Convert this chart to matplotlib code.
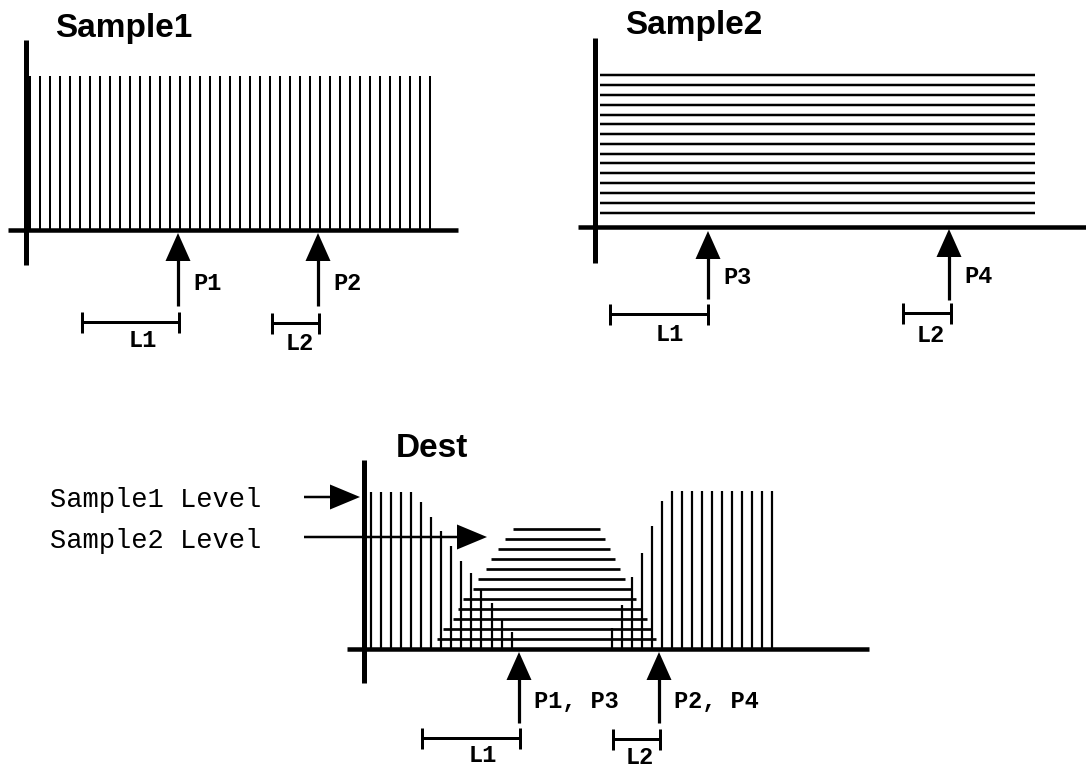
import matplotlib
matplotlib.use("Agg")
import matplotlib.pyplot as plt

# everything below is in picture units: 0..1086 across, 0..767 down

# Sample1: comb of vertical samples
s1_x = [30, 40, 50, 60, 70, 80, 90, 100, 110, 120, 130, 140, 150, 160, 170, 180,
        190, 200, 210, 220, 230, 240, 250, 260, 270, 280, 290, 300, 310, 320, 330,
        340, 350, 360, 370, 380, 390, 400, 410, 420, 430]
s1_top = 76
s1_base = 230

# Sample2: horizontal levels
s2_y = [75, 85, 95, 105, 114.5, 124, 134, 143.5, 153.5, 163, 172.5, 182.5, 192.5, 202.5, 212.5]
s2_left, s2_right = 600, 1035

# Dest: mix of both
dest_left_x = [371, 381, 391, 401, 411, 421, 431, 441, 451, 461, 471, 481, 491.5, 501.5, 511.5]
dest_left_top = [492, 492, 492, 492, 492, 502, 517, 531, 546, 561, 573, 589, 603, 619, 632]
dest_right_x = [612, 622, 632, 642, 652, 662, 672, 682, 692, 702, 712, 722, 732, 742, 752, 762, 772]
dest_right_top = [628, 605, 577, 553, 526, 501, 491, 491, 491, 491, 491, 491, 491, 491, 491, 491, 491]
dest_h_y = [529, 539, 549, 559, 569, 579, 589, 599, 609, 619, 629, 638.5]
dest_h_left = [513, 505, 498, 491, 486, 478, 473, 463, 458, 453, 443, 437]
dest_h_right = [600, 605, 610, 615, 620, 625, 631, 636, 641, 647, 652, 656]
dest_base = 649

# frames (y axis + x axis of each panel)
titles = ["Sample1", "Sample2", "Dest"]
title_x = [55, 625, 396]
title_y = [37, 34, 457]
vax_x = [26, 595, 364]
vax_top = [40, 38, 460]
vax_bot = [265, 263, 683]
hax_y = [230, 227, dest_base]
hax_x0 = [8, 578, 347]
hax_x1 = [458, 1086, 869]

# pointers
ptr_labels = ["P1", "P2", "P3", "P4", "P1, P3", "P2, P4"]
ptr_x = [178, 318, 708, 949, 519, 659]
ptr_tip = [233, 233, 231, 229, 652, 652]
ptr_end = [306, 306, 299, 300, 723, 723]
ptr_text_y = [289.5, 289.5, 284, 283, 708, 708]

# length brackets
len_labels = ["L1", "L2", "L1", "L2", "L1", "L2"]
len_x0 = [82, 272, 610, 903, 422, 613]
len_x1 = [179, 319, 708, 951, 520, 660]
len_y = [322, 323, 314, 313, 738, 739]
len_text_x = [143, 300, 670, 931, 483, 640]
len_text_y = [347, 350, 341, 342, 762, 764]

# level arrows in Dest
level_labels = ["Sample1 Level", "Sample2 Level"]
level_y = [497, 537]
level_start = [304, 304]
level_tip = [360, 487]
level_text_x = [50, 50]
level_text_y = [507, 548]

head_len = 28
head_hw = 12.5
px = 0.72  # pixel -> points at 100 dpi

fig = plt.figure(figsize=(10.86, 7.67), dpi=100)
ax = fig.add_axes([0, 0, 1, 1])
ax.set_xlim(0, 1086)
ax.set_ylim(767, 0)
ax.axis("off")

# sample lines
ax.vlines(s1_x, s1_top, s1_base, color="black", lw=2 * px)
ax.hlines(s2_y, s2_left, s2_right, color="black", lw=2.5 * px)
ax.vlines(dest_left_x, dest_left_top, dest_base, color="black", lw=2.2 * px)
ax.vlines(dest_right_x, dest_right_top, dest_base, color="black", lw=2.2 * px)
ax.hlines(dest_h_y, dest_h_left, dest_h_right, color="black", lw=2.7 * px)

# axes of each panel
ax.vlines(vax_x, vax_top, vax_bot, color="black", lw=5 * px)
ax.hlines(hax_y, hax_x0, hax_x1, color="black", lw=4.5 * px)

for i in range(len(titles)):
    ax.text(title_x[i], title_y[i], titles[i], family="Liberation Sans",
            weight="bold", fontsize=24, ha="left", va="baseline")

# upward pointers
for i in range(len(ptr_labels)):
    x = ptr_x[i]
    t = ptr_tip[i]
    ax.fill([x, x - head_hw, x + head_hw], [t, t + head_len, t + head_len],
            color="black", lw=0)
    ax.vlines(x, t + head_len - 1, ptr_end[i], color="black", lw=3.2 * px)
    ax.text(x + 15, ptr_text_y[i], ptr_labels[i], family="Liberation Mono",
            weight="bold", fontsize=17, ha="left", va="baseline")

# length brackets
for i in range(len(len_labels)):
    ax.hlines(len_y[i], len_x0[i], len_x1[i], color="black", lw=3 * px)
    ax.vlines([len_x0[i], len_x1[i]], len_y[i] - 10.5, len_y[i] + 10.5,
              color="black", lw=3 * px)
    ax.text(len_text_x[i], len_text_y[i], len_labels[i], family="Liberation Mono",
            weight="bold", fontsize=17, ha="center", va="baseline")

# level arrows
for i in range(len(level_labels)):
    y = level_y[i]
    t = level_tip[i]
    ax.hlines(y, level_start[i], t - head_len + 1, color="black", lw=2.5 * px)
    ax.fill([t, t - head_len - 2, t - head_len - 2], [y, y - head_hw, y + head_hw],
            color="black", lw=0)
    ax.text(level_text_x[i], level_text_y[i], level_labels[i], family="Liberation Mono",
            fontsize=19.5, ha="left", va="baseline")

plt.savefig("out.png", dpi=100)
